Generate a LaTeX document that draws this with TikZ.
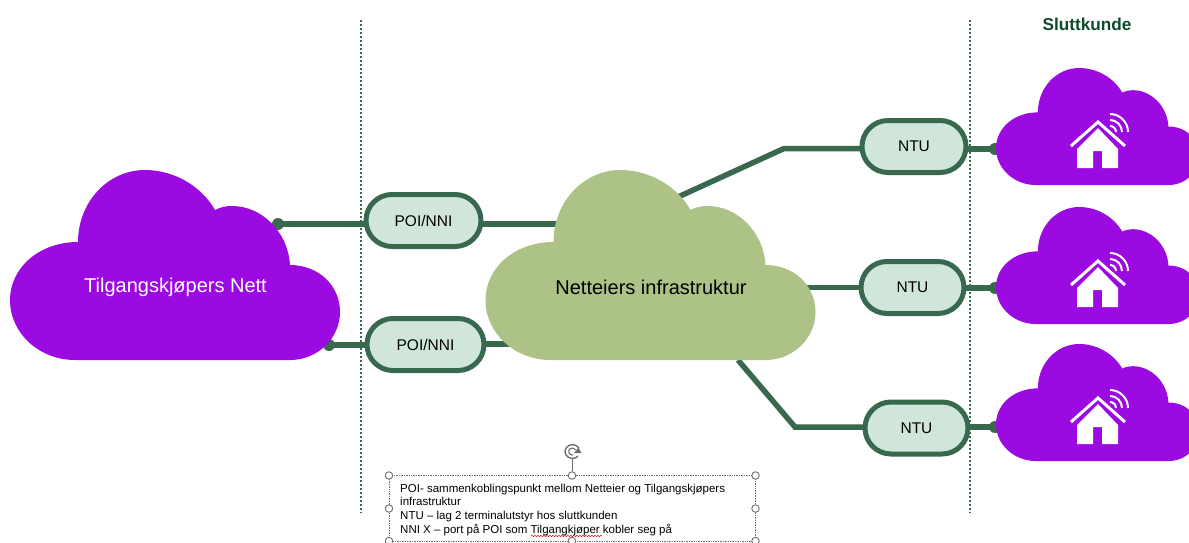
\documentclass[tikz,border=0pt]{standalone}
\usepackage{fontspec}
\setmainfont{Liberation Sans}
\usetikzlibrary{backgrounds,shapes.misc,decorations.pathmorphing}
\definecolor{fiberline}{HTML}{38694F}
\definecolor{pillfill}{HTML}{D0E6DA}
\definecolor{kjoperpurple}{HTML}{9B0AE0}
\definecolor{eiergreen}{HTML}{ADC287}
\definecolor{titlegreen}{HTML}{0F4A2A}
\definecolor{handlegrey}{HTML}{6F6F6F}
\newcommand{\cloudshape}[4]{
    \fill[#4,shift={(#1,#2)},scale=#3] (65,190) .. controls (29,190) and (0,163) .. (0,130)
        .. controls (0,98) and (29,72) .. (68,72)
        .. controls (68,32) and (98,0) .. (135,0)
        .. controls (165,0) and (192,17) .. (205,40)
        .. controls (211,37) and (216,36) .. (222,36)
        .. controls (252,36) and (278,62) .. (280,95)
        .. controls (308,95) and (330,115) .. (330,142)
        .. controls (330,168) and (308,190) .. (280,190) -- cycle;
}
\tikzset{
    pill/.style={rounded rectangle,draw=fiberline,fill=pillfill,line width=5pt,minimum height=52pt,inner sep=0pt,font=\fontsize{15.5}{18}\selectfont},
    fiber/.style={draw=fiberline,line width=5.5pt},
    grense/.style={draw=fiberline,line width=1.6pt,dash pattern=on 2pt off 2pt},
    handle/.style={circle,draw=handlegrey,fill=white,line width=0.9pt,minimum size=7.5pt,inner sep=0pt},
    cloudtext/.style={font=\fontsize{20}{24}\selectfont}
}
\begin{document}
\begin{tikzpicture}[x=1pt,y=-1pt]
    \path[use as bounding box,clip] (0,0) rectangle (1189,543);

    \coordinate (dotTop) at (278,224);
    \coordinate (dotBottom) at (329,345);
    \coordinate (eierTop) at (560,224);
    \coordinate (eierBottom) at (520,344);
    \coordinate (eierNtuA) at (678,197);
    \coordinate (bendA) at (784,148.5);
    \coordinate (eierNtuB) at (790,287.5);
    \coordinate (eierNtuC) at (738,360);
    \coordinate (bendC) at (795,427);
    \coordinate (dotA) at (995,149);
    \coordinate (dotB) at (995,288);
    \coordinate (dotC) at (995,427);

    % clouds
    \cloudshape{10}{170}{1}{kjoperpurple}
    \cloudshape{485.5}{170}{1}{eiergreen}
    \foreach \top in {68,207,344} {
        \cloudshape{996}{\top}{0.616}{kjoperpurple}
        \begin{scope}[shift={(0,\top)}]
            \fill[white] (1098,60) -- (1118,81) -- (1118,100) -- (1102,100) -- (1102,83) -- (1093,83) -- (1093,100) -- (1077,100) -- (1077,81) -- cycle;
            \draw[white,line width=3pt] (1071,78) -- (1098,54) -- (1125,78);
            \foreach \r in {6,12,18} {
                \draw[white,line width=2pt] (1110,{64-\r}) .. controls ({1110+0.55*\r},{64-\r}) and ({1110+\r},{64-0.55*\r}) .. ({1110+\r},64);
            }
        \end{scope}
    }
    \node[cloudtext,text=white] (kjoper) at (175.5,287) {Tilgangskjøpers Nett};
    \node[cloudtext] (eier) at (651,287) {Netteiers infrastruktur};

    % boxes
    \node[pill,minimum width=115pt] (poiA) at (423.5,220.5) {POI/NNI};
    \node[pill,minimum width=117pt] (poiB) at (425.5,344.5) {POI/NNI};
    \node[pill,minimum width=104pt] (ntuA) at (914,146.5) {NTU};
    \node[pill,minimum width=103pt] (ntuB) at (912.5,287.5) {NTU};
    \node[pill,minimum width=103pt] (ntuC) at (916.5,428) {NTU};

    \begin{pgfonlayer}{background}
        \draw[fiber] (dotTop) -- (poiA.center |- dotTop);
        \draw[fiber] (poiA.center |- eierTop) -- (eierTop);
        \draw[fiber] (dotBottom) -- (poiB.center |- dotBottom);
        \draw[fiber] (poiB.center |- eierBottom) -- (eierBottom);
        \draw[fiber] (eierNtuA) -- (bendA) -- (ntuA.center |- bendA);
        \draw[fiber] (eierNtuB) -- (ntuB.center |- eierNtuB);
        \draw[fiber] (eierNtuC) -- (bendC) -- (ntuC.center |- bendC);
        \draw[fiber] (ntuA.center |- dotA) -- (dotA);
        \draw[fiber] (ntuB.center |- dotB) -- (dotB);
        \draw[fiber] (ntuC.center |- dotC) -- (dotC);
        \foreach \dot in {dotTop,dotBottom,dotA,dotB,dotC} {
            \fill[fiberline] (\dot) circle (6pt);
        }
    \end{pgfonlayer}

    \draw[grense] (361,20) -- (361,513);
    \draw[grense] (970,20) -- (970,513);
    \node[font=\fontsize{17.2}{20}\selectfont\bfseries,text=titlegreen] (sluttkunde) at (1087,24) {Sluttkunde};

    % selected text box
    \draw[handlegrey,line width=0.7pt,densely dotted] (389,475.5) rectangle (755.5,541);
    \node[handle] (hNW) at (389,475.5) {};
    \node[handle] (hN) at (572,475.5) {};
    \node[handle] (hNE) at (755.5,475.5) {};
    \node[handle] (hW) at (389,508.5) {};
    \node[handle] (hE) at (755.5,508.5) {};
    \node[handle] (hSW) at (389,541) {};
    \node[handle] (hS) at (572,541) {};
    \node[handle] (hSE) at (755.5,541) {};
    \coordinate (rotate) at (572,458);
    \draw[handlegrey,line width=0.9pt] (rotate) -- (hN);
    \draw[handlegrey,line width=1.4pt] (579,448) .. controls (576,443.5) and (569,443.5) .. (566,448) .. controls (563.5,452) and (566,458) .. (572,458.5) .. controls (575,458.5) and (577,457.5) .. (578,456);
    \draw[handlegrey,line width=1.1pt] (575.5,450) .. controls (574,447.5) and (570,447.5) .. (569,450) .. controls (568,453) and (570,455) .. (573,455);
    \fill[handlegrey] (574,453) -- (581.5,453) -- (578.5,447.5) -- cycle;
    \node[anchor=north west,align=left,inner sep=0pt,font=\fontsize{11.5}{13.7}\selectfont] (legend) at (400,483.5) {POI- sammenkoblingspunkt mellom Netteier og Tilgangskjøpers\\infrastruktur\\NTU -- lag 2 terminalutstyr hos sluttkunden\\NNI X -- port på POI som Tilgangkjøper kobler seg på};
    \draw[red!80!black,line width=0.5pt,decorate,decoration={snake,amplitude=0.6pt,segment length=3pt}] (531,536) -- (602,536);
\end{tikzpicture}
\end{document}
